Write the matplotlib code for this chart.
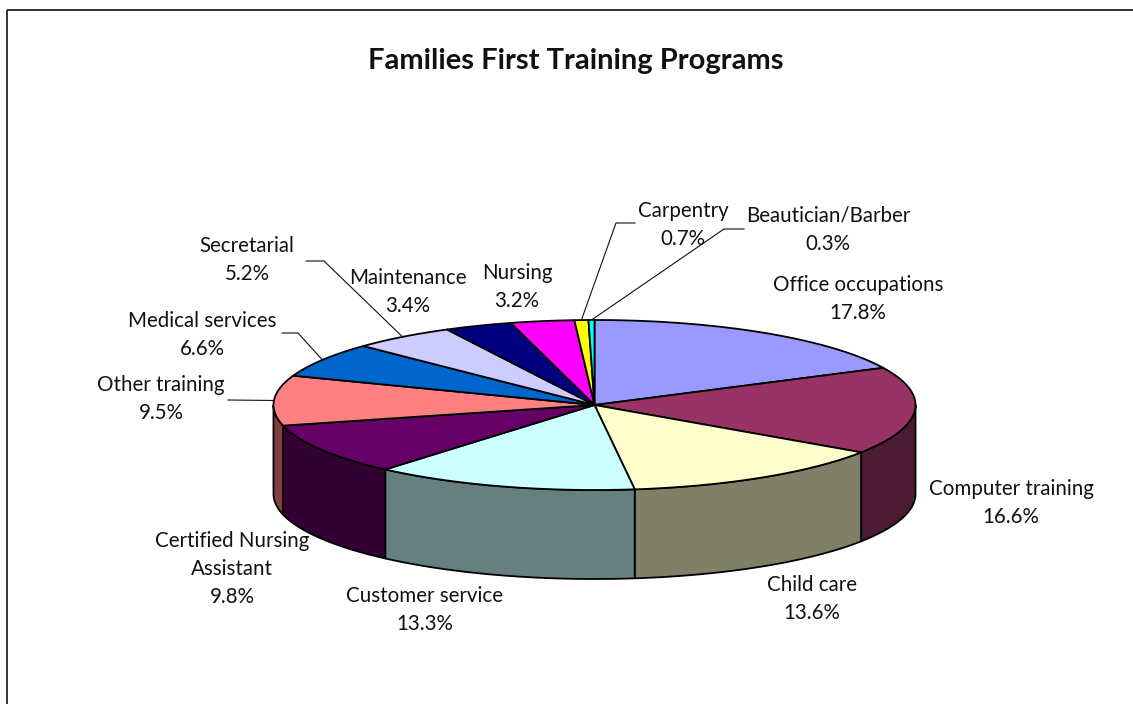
import numpy as np
import matplotlib
matplotlib.use("Agg")
import matplotlib.pyplot as plt
from matplotlib.patches import Polygon
import matplotlib.colors as mcolors

# ---------------- data ----------------
title = "Families First Training Programs"
categories = ["Office occupations", "Computer training", "Child care", "Customer service",
              "Certified Nursing\nAssistant", "Other training", "Medical services",
              "Secretarial", "Maintenance", "Nursing", "Carpentry", "Beautician/Barber"]
shares = [17.8, 16.6, 13.6, 13.3, 9.8, 9.5, 6.6, 5.2, 3.4, 3.2, 0.7, 0.3]
top_colors = ["#9999FF", "#993366", "#FFFFCC", "#CCFFFF", "#660066", "#FF8080",
              "#0066CC", "#CCCCFF", "#000080", "#FF00FF", "#FFFF00", "#00FFFF"]

# ---------------- layout ----------------
W, H = 1133, 704
CX, CY, RX, RY, DEPTH = 594.5, 405.0, 321.0, 85.0, 89.0
LINE_GAP = 28
# baseline of the first line of each label
label_xy = [(858, 291), (1011, 495), (812, 591), (425, 602), (232, 547), (161, 391),
            (202, 327), (247, 252), (408, 284), (517, 279), (683, 217), (828, 222)]
# leader line points on the label side
leaders = {5: [(228, 400)], 6: [(282, 333), (298, 333)], 7: [(306, 261), (324, 261)],
           10: [(635, 223), (616, 223)], 11: [(744, 229), (724, 229)]}

plt.rcParams["font.family"] = ["Lato", "DejaVu Sans"]
fig = plt.figure(figsize=(W / 100, H / 100), dpi=100)
ax = fig.add_axes([0, 0, 1, 1])
ax.set_xlim(0, W)
ax.set_ylim(H, 0)
ax.axis("off")

# frame
ax.plot([7, 7], [10, H + 5], color="#222222", lw=1.3, solid_capstyle="butt")
ax.plot([7, W + 5], [10, 10], color="#222222", lw=1.3, solid_capstyle="butt")

ax.text(576, 69, title, ha="center", va="baseline", fontsize=21, fontweight="bold",
        color="#111111")


def pt(t_deg, dy=0.0):
    t = np.radians(t_deg)
    return CX + RX * np.cos(t), CY - RY * np.sin(t) + dy


total = float(sum(shares))
starts, ends = [], []
a = 90.0
for s in shares:
    starts.append(a)
    a -= s / total * 360.0
    ends.append(a)

edge_kw = dict(edgecolor="black", linewidth=1.3, joinstyle="round")

# sides (front half: angles between -180 and 0)
for i, (s, e) in enumerate(zip(starts, ends)):
    lo, hi = max(e, -180.0), min(s, 0.0)
    if hi <= lo:
        continue
    ts = np.linspace(hi, lo, 100)
    top = [pt(t) for t in ts]
    bot = [pt(t, DEPTH) for t in ts[::-1]]
    rgb = np.array(mcolors.to_rgb(top_colors[i])) * 0.5
    ax.add_patch(Polygon(top + bot, closed=True, facecolor=rgb, zorder=2, **edge_kw))

# top faces
for i, (s, e) in enumerate(zip(starts, ends)):
    n = max(4, int(abs(s - e) * 2))
    ts = np.linspace(s, e, n)
    poly = [(CX, CY)] + [pt(t) for t in ts]
    ax.add_patch(Polygon(poly, closed=True, facecolor=top_colors[i], zorder=3, **edge_kw))

# labels
for i, name in enumerate(categories):
    x, y = label_xy[i]
    lines = name.split("\n") + [f"{shares[i]:.1f}%"]
    for k, ln in enumerate(lines):
        ax.text(x, y + k * LINE_GAP, ln, ha="center", va="baseline", fontsize=14.8,
                color="#111111")
    if i in leaders:
        mid = (starts[i] + ends[i]) / 2
        px, py = pt(mid)
        pts = leaders[i] + [(px, py)]
        ax.plot([p[0] for p in pts], [p[1] for p in pts], color="#111111", lw=0.8,
                zorder=4)

fig.savefig("out.png", dpi=100)
